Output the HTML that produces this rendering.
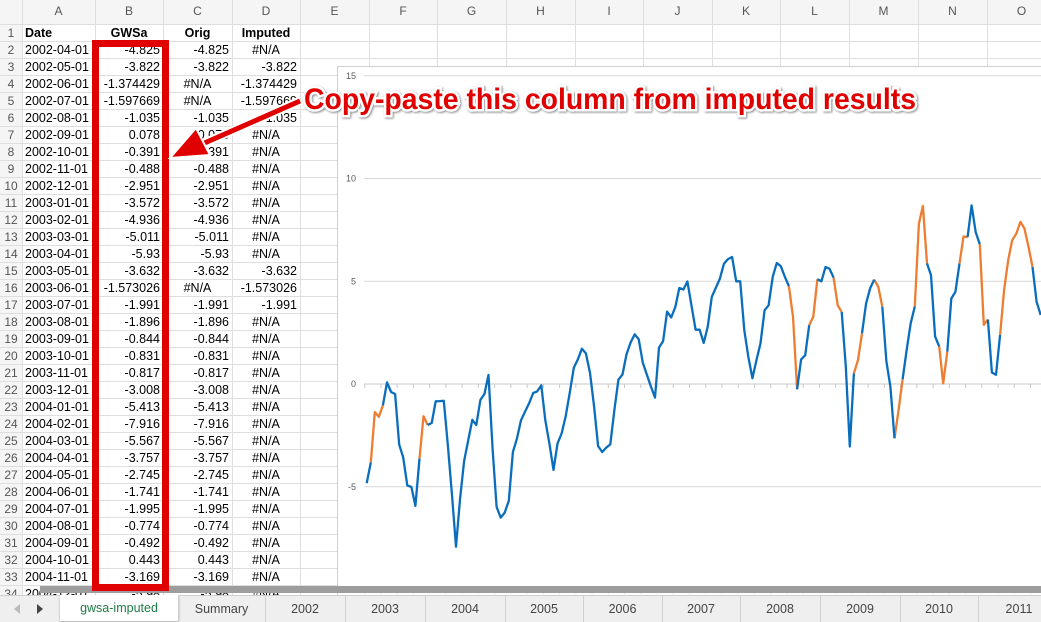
<!DOCTYPE html>
<html><head><meta charset="utf-8"><style>
body{margin:0;width:1041px;height:621px;overflow:hidden;background:#fff;font-family:"Liberation Sans",Arial,sans-serif;position:relative}
.c{position:absolute;height:17px;line-height:17px;font-size:12.5px;color:#000;white-space:nowrap;overflow:visible;box-sizing:border-box;padding:0 3px}
.hl{position:absolute;background:#dedede}
#tabs{position:absolute;left:0;top:595px;width:1041px;height:26px;background:#efefef;border-top:1px solid #cfcfcf}
.tab{position:absolute;top:0;height:26px;line-height:26px;text-align:center;font-size:12.5px;color:#444;border-right:1px solid #cfcfcf}
</style></head><body>
<div id="grid"></div>
<svg id="chart" width="1041" height="621" style="position:absolute;left:0;top:0"></svg>
<div style="position:absolute;left:40px;top:586px;width:1001px;height:7px;background:#9d9d9d"></div>
<div id="tabs">
 <div style="position:absolute;left:14px;top:8px;width:0;height:0;border-top:5px solid transparent;border-bottom:5px solid transparent;border-right:6px solid #bbb"></div>
 <div style="position:absolute;left:37px;top:8px;width:0;height:0;border-top:5px solid transparent;border-bottom:5px solid transparent;border-left:6px solid #444"></div>
</div>
<svg id="anno" width="1041" height="621" style="position:absolute;left:0;top:0">
 <rect x="95.5" y="43.5" width="70" height="544" fill="none" stroke="#e00000" stroke-width="7"/>
 <g>
  <line x1="300" y1="101" x2="200" y2="145" stroke="#fff" stroke-width="9"/>
  <line x1="300" y1="101" x2="200" y2="145" stroke="#e00000" stroke-width="5"/>
  <polygon points="170,158 196,128 210,155" fill="#e00000" stroke="#fff" stroke-width="2"/>
 </g>
 <text x="304" y="109" textLength="612" lengthAdjust="spacingAndGlyphs" font-family="Liberation Sans, sans-serif" font-weight="bold" font-size="30" fill="#e00000" stroke="#fff" stroke-width="5" paint-order="stroke" style="filter:drop-shadow(1px 1px 1px #888)">Copy-paste this column from imputed results</text>
</svg>
<script>
const colNames=['A','B','C','D','E','F','G','H','I','J','K','L','M','N','O'];
const dates=['2002-04-01','2002-05-01','2002-06-01','2002-07-01','2002-08-01','2002-09-01','2002-10-01','2002-11-01','2002-12-01','2003-01-01','2003-02-01','2003-03-01','2003-04-01','2003-05-01','2003-06-01','2003-07-01','2003-08-01','2003-09-01','2003-10-01','2003-11-01','2003-12-01','2004-01-01','2004-02-01','2004-03-01','2004-04-01','2004-05-01','2004-06-01','2004-07-01','2004-08-01','2004-09-01','2004-10-01','2004-11-01','2004-12-01'];
const gwsa=['-4.825','-3.822','-1.374429','-1.597669','-1.035','0.078','-0.391','-0.488','-2.951','-3.572','-4.936','-5.011','-5.93','-3.632','-1.573026','-1.991','-1.896','-0.844','-0.831','-0.817','-3.008','-5.413','-7.916','-5.567','-3.757','-2.745','-1.741','-1.995','-0.774','-0.492','0.443','-3.169','-5.98'];
const orig=['-4.825','-3.822','#N/A','#N/A','-1.035','0.078','-0.391','-0.488','-2.951','-3.572','-4.936','-5.011','-5.93','-3.632','#N/A','-1.991','-1.896','-0.844','-0.831','-0.817','-3.008','-5.413','-7.916','-5.567','-3.757','-2.745','-1.741','-1.995','-0.774','-0.492','0.443','-3.169','-5.98'];
const imputed=['#N/A','-3.822','-1.374429','-1.597669','-1.035','#N/A','#N/A','#N/A','#N/A','#N/A','#N/A','#N/A','#N/A','-3.632','-1.573026','-1.991','#N/A','#N/A','#N/A','#N/A','#N/A','#N/A','#N/A','#N/A','#N/A','#N/A','#N/A','#N/A','#N/A','#N/A','#N/A','#N/A','#N/A'];
const grid=document.getElementById('grid');
const colX=[22,95,163,232,300,369,437,506,575,643,712,780,849,918,987,1056];
const rowTop=n=>24.5+17*(n-1);
function cell(x,y,w,txt,align,extra){const d=document.createElement('div');d.className='c';d.style.left=x+'px';d.style.top=y+'px';d.style.width=w+'px';d.style.textAlign=align;if(extra)d.style.cssText+=extra;d.textContent=txt;grid.appendChild(d);return d;}
const hb=document.createElement('div');hb.style.cssText='position:absolute;left:0;top:0;width:1041px;height:24px;background:#f5f5f5';


grid.appendChild(hb);
const rb=document.createElement('div');rb.style.cssText='position:absolute;left:0;top:0;width:22px;height:595px;background:#f5f5f5';


grid.appendChild(rb);
for(let i=0;i<colX.length;i++){const l=document.createElement('div');l.className='hl';l.style.cssText+=`left:${colX[i]}px;top:0;width:1px;height:595px`;


grid.appendChild(l);}
for(let n=1;n<=35;n++){const l=document.createElement('div');l.className='hl';l.style.cssText+=`left:0;top:${Math.round(rowTop(n))-1}px;width:1041px;height:1px`;


grid.appendChild(l);}
for(let i=0;i<colNames.length;i++){const d=cell(colX[i],3,colX[i+1]-colX[i],colNames[i],'center','color:#555;font-size:12px');

}
for(let n=1;n<=34;n++){const d=cell(0,rowTop(n),22,String(n),'center','color:#555;font-size:12px;padding:0');

}
let h=cell(22,rowTop(1),73,'Date','left','font-weight:bold');
h=cell(95,rowTop(1),68,'GWSa','center','font-weight:bold');
h=cell(163,rowTop(1),69,'Orig','center','font-weight:bold');
h=cell(232,rowTop(1),68,'Imputed','center','font-weight:bold');
for(let r=0;r<dates.length;r++){const y=rowTop(r+2);
 let d=cell(22,y,73,dates[r],'left','overflow:hidden');
 d=cell(95,y,68,gwsa[r],'right');
 d=cell(163,y,69,orig[r],orig[r]=='#N/A'?'center':'right');
 d=cell(232,y,68,imputed[r],imputed[r]=='#N/A'?'center':'right');}
const tabNames=['gwsa-imputed','Summary','2002','2003','2004','2005','2006','2007','2008','2009','2010','2011'];
const tabX=[60,178,265,345,425,505,583,662,740,820,900,978,1060];
const tabs=document.getElementById('tabs');
tabNames.forEach((t,i)=>{const d=document.createElement('div');d.className='tab';d.style.left=tabX[i]+'px';d.style.width=(tabX[i+1]-tabX[i])+'px';d.textContent=t;
 if(i==0){d.style.background='#fff';d.style.color='#1e7b45';d.style.top='-1px';d.style.boxShadow='0 1px 2px #aaa';}
 
 
 tabs.appendChild(d);});
</script>
<script>
const values=[-4.825,-3.822,-1.374,-1.598,-1.035,0.078,-0.391,-0.488,-2.951,-3.572,-4.936,-5.011,-5.93,-3.632,-1.573,-1.991,-1.896,-0.844,-0.831,-0.817,-3.008,-5.413,-7.916,-5.567,-3.757,-2.745,-1.741,-1.995,-0.774,-0.492,0.443,-3.169,-5.98,
-6.5,-6.26,-5.69,-3.31,-2.66,-1.76,-1.35,-0.94,-0.44,-0.36,-0.07,-1.76,-2.9,-4.18,-2.9,-2.41,-1.59,-0.44,0.79,1.19,1.72,1.49,0.54,-1.1,-3.02,-3.31,-3.1,-2.94,-1.26,0.21,0.46,1.44,2.02,2.42,2.18,1.03,0.46,-0.12,-0.66,1.77,2.09,3.52,3.24,3.74,4.67,4.6,4.99,3.81,2.64,2.64,2.0,2.78,4.24,4.69,5.13,5.86,6.08,6.18,5.0,5.0,2.62,1.33,0.28,1.17,1.98,3.59,3.83,5.21,5.89,5.73,5.21,4.76,3.28,-0.26,1.19,1.4,2.86,3.28,5.1,5.0,5.69,5.61,5.18,3.83,3.51,0.85,-3.04,0.52,1.17,2.46,3.92,4.65,5.08,4.73,3.76,1.1,-0.13,-2.64,-1.26,0.23,1.67,2.96,3.77,7.8,8.66,5.87,5.29,2.31,1.83,0.03,1.58,4.16,4.48,5.86,7.18,7.15,8.69,7.39,6.8,2.88,3.14,0.56,0.45,2.39,4.58,6.03,7.0,7.32,7.89,7.57,6.68,5.7,4.0,3.36];
// indices present in both original and imputed series
const bothIdx=[1,4,13,15,104,106,109,111,115,117,120,122,125,127,130,132,135,138,141,143,146,148,151,153,156,164];
// indices present only in imputed series
const impOnlyIdx=[2,3,14,105,110,116,121,126,131,136,137,142,147,152,157,158,159,160,161,162,163];
const yTicks=[15,10,5,0,-5,-10];
const source=values.map((v,i)=>bothIdx.includes(i)?'b':(impOnlyIdx.includes(i)?'i':'o'));
const svg=document.getElementById('chart');const NS='http://www.w3.org/2000/svg';
const xOf=i=>366.7+4.06*i;
const yOf=v=>384-20.55*v;
function el(t,a){const e=document.createElementNS(NS,t);for(const k in a)e.setAttribute(k,a[k]);svg.appendChild(e);return e;}
let bg=el('rect',{x:337.5,y:66.5,width:720,height:530,fill:'#fff',stroke:'#d0d0d0'});


yTicks.forEach(t=>{const y=yOf(t);
 const g=el('line',{x1:364,x2:1041,y1:y,y2:y,stroke:t==0?'#c8c8c8':'#d9d9d9','stroke-width':1});
 
 
 const tx=el('text',{x:356,y:y+3,'text-anchor':'end','font-size':9,fill:'#595959','font-family':'Liberation Sans, sans-serif'});
 tx.textContent=String(t);
 
 });
for(let i=0;i*4<=values.length+8;i++){const x=xOf(i*4)-2;
 [yOf(0),yOf(-10)].forEach(y=>{const tk=el('line',{x1:x,x2:x,y1:y,y2:y+4,stroke:'#c8c8c8'});
 
 });}
function series(ok,color,name){let d='',pen=false;
 values.forEach((v,i)=>{if(ok(source[i])){d+=(pen?'L':'M')+xOf(i).toFixed(1)+' '+yOf(v).toFixed(1);pen=true;}else pen=false;});
 const p=el('path',{d:d,fill:'none',stroke:color,'stroke-width':2.3,'stroke-linejoin':'round'});
 
 }
series(s=>s!='o','#ed7d31','imputed-series-line');
series(s=>s!='i','#0a6ebd','original-series-line');
</script>
</body></html>
